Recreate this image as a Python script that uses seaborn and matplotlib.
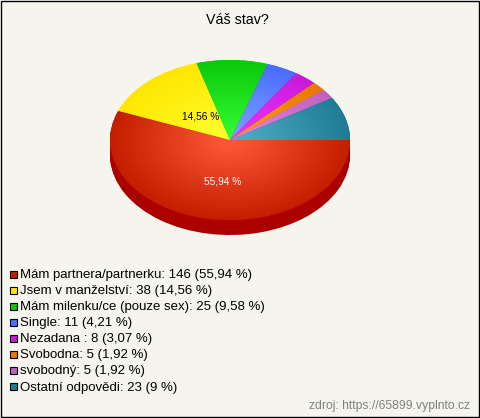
import numpy as np
import matplotlib
matplotlib.use('Agg')
import matplotlib.pyplot as plt
from matplotlib.colors import LinearSegmentedColormap
from matplotlib.patches import Rectangle
import seaborn as sns

categories = ['Mám partnera/partnerku', 'Jsem v manželství', 'Mám milenku/ce (pouze sex)', 'Single',
              'Nezadana ', 'Svobodna', 'svobodný', 'Ostatní odpovědi']
counts = [146, 38, 25, 11, 8, 5, 5, 23]
shares = ['55,94', '14,56', '9,58', '4,21', '3,07', '1,92', '1,92', '9']

# colours at the rim and in the middle of the pie
rim_colors = sns.color_palette(['#c41e00', '#ffe600', '#0cc80c', '#4a6cff', '#c81ad8', '#e87800', '#c060c0', '#1f7c94'])
mid_colors = sns.color_palette(['#ff5a3c', '#ffff30', '#34ff34', '#80a4ff', '#f034ff', '#ff9c22', '#e484e4', '#52b0c8'])
side_color = '#aa0000'

bg = '#f5f5ed'
sns.set_style('white')
plt.rcParams['font.family'] = ['Liberation Sans', 'DejaVu Sans']

W, H = 480, 418
fig = plt.figure(figsize=(W / 100, H / 100), dpi=100, facecolor='white')
ax = fig.add_axes([0, 0, 1, 1])
ax.axis('off')

# y data is pixels * 1.5 so that a round pie of r=120 comes out 80 px high
ysc = 1.5
cx, cy, rad, depth = 230, (H - 140) * ysc, 120, 15


def y_px(py):
    return (H - py) * ysc


# panel with its frame, the last pixel row and column stay white
ax.add_patch(Rectangle((0.5, y_px(416.5)), 478, 416 * ysc, facecolor=bg, edgecolor='black', linewidth=1.0, zorder=0))

# side of the pie
for off in range(depth, 0, -1):
    ax.pie(counts, startangle=0, counterclock=False, center=(cx, cy - off * ysc), radius=rad,
           colors=[side_color] * len(counts), frame=True, wedgeprops={'linewidth': 0, 'edgecolor': side_color})

wedges, _ = ax.pie(counts, startangle=0, counterclock=False, center=(cx, cy), radius=rad,
                   colors=rim_colors, frame=True, wedgeprops={'linewidth': 0})

# radial shading, one image per wedge clipped to it
xx, yy = np.meshgrid(np.linspace(-1, 1, 500), np.linspace(-1, 1, 500))
dist = np.clip(np.sqrt(xx ** 2 + yy ** 2), 0, 1)
for w, c_in, c_out in zip(wedges, mid_colors, rim_colors):
    cmap = LinearSegmentedColormap.from_list('shade', [c_in, c_out])
    im = ax.imshow(dist, cmap=cmap, vmin=0, vmax=1, origin='lower', aspect='auto',
                   extent=(cx - rad, cx + rad, cy - rad, cy + rad), zorder=3)
    im.set_clip_path(w)

ax.set_xlim(0, W)
ax.set_ylim(0, H * ysc)
ax.set_aspect('auto')
ax.axis('off')

ax.text(201, y_px(116.5), '14,56 %', fontsize=7.3, color='black', ha='center', va='center', zorder=5)
ax.text(222.5, y_px(182), '55,94 %', fontsize=7.3, color='white', ha='center', va='center', zorder=5)
ax.text(237, y_px(20.5), 'Váš stav?', fontsize=10.3, color='black', ha='center', va='center', zorder=5)

# legend
top, step = 274, 16.1
for i, (name, n, pct) in enumerate(zip(categories, counts, shares)):
    py = top + i * step
    ax.add_patch(Rectangle((9.5, y_px(py + 3.5)), 7, 7 * ysc, facecolor=rim_colors[i], edgecolor='black',
                           linewidth=0.8, zorder=5))
    ax.text(20, y_px(py + 0.8), f'{name}: {n} ({pct} %)', fontsize=9.56, color='black', va='center', zorder=5)

ax.text(470, y_px(406), 'zdroj: https://65899.vyplnto.cz', fontsize=8.7, color='#808080', ha='right', va='center',
        zorder=5)

fig.savefig('out.png', dpi=100, facecolor='white')
